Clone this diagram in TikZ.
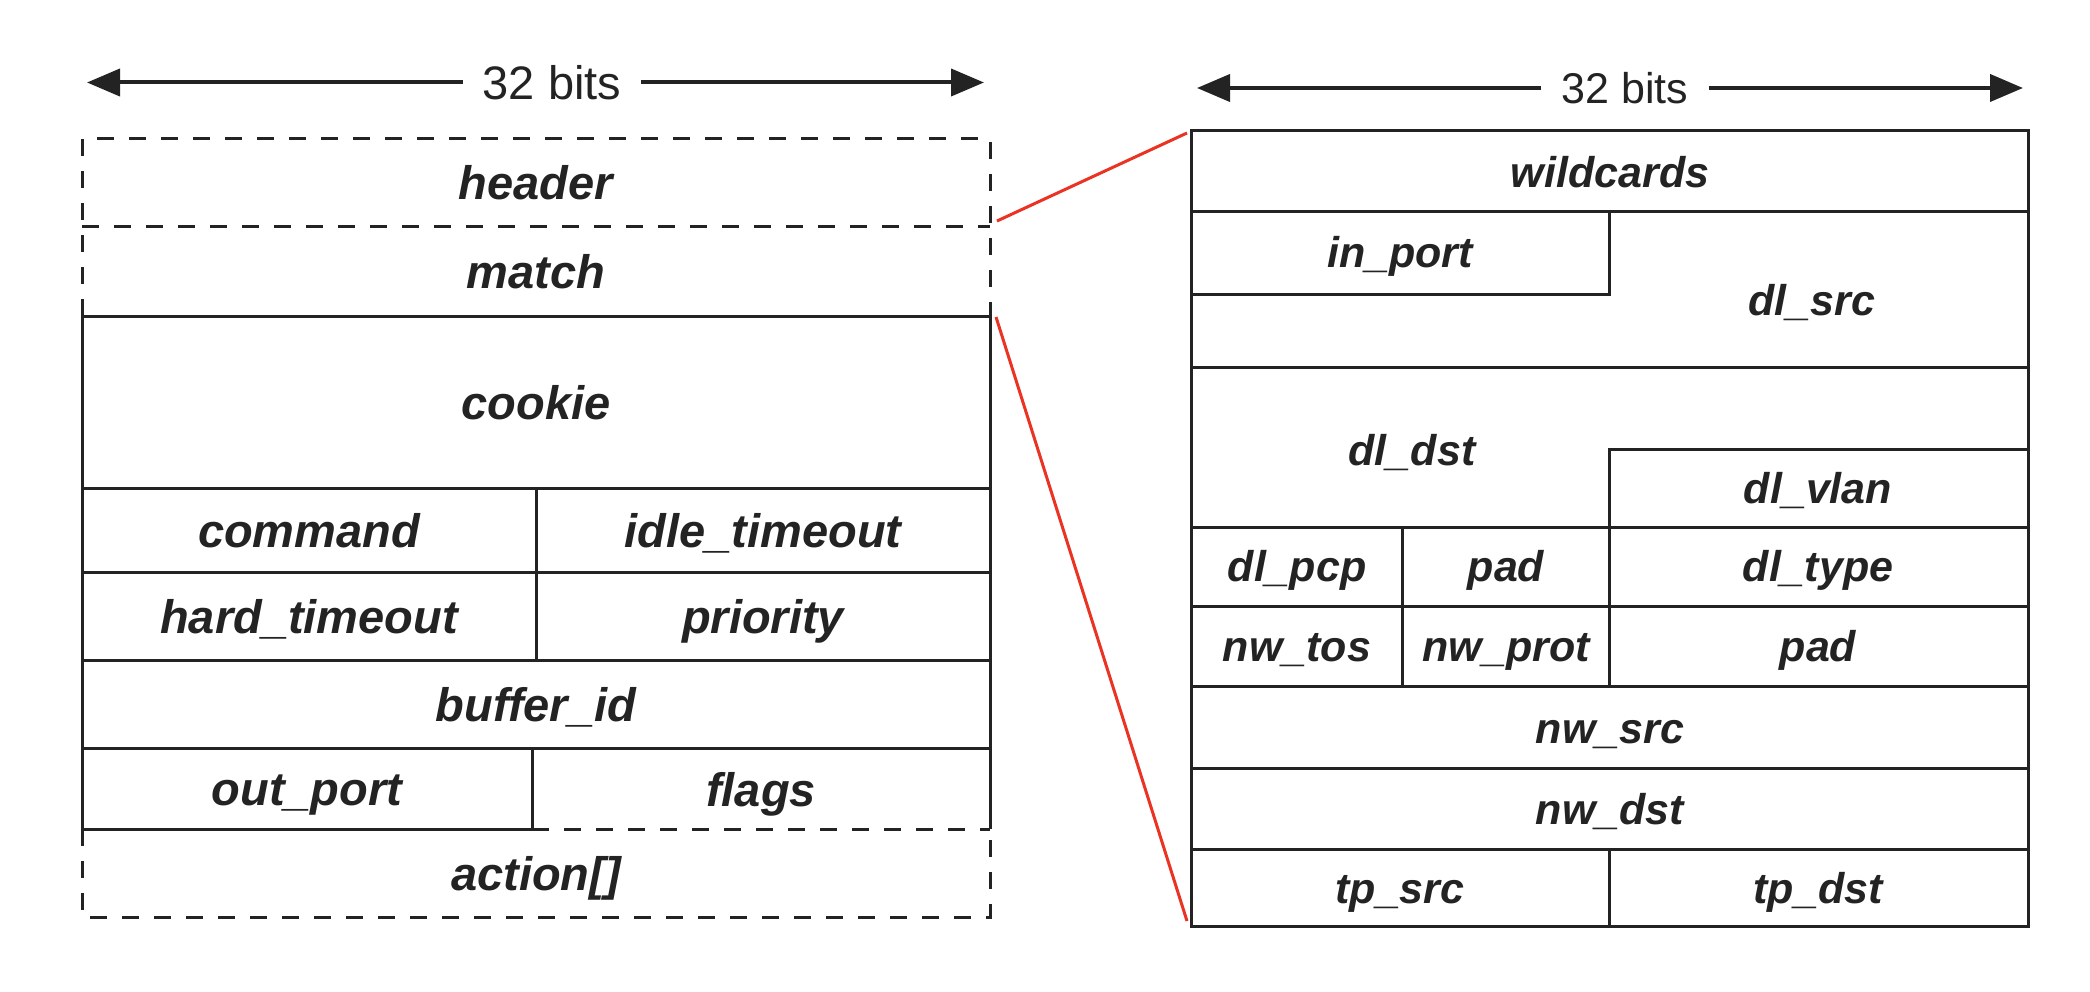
\documentclass[tikz,border=0pt]{standalone}
\usepackage{fontspec}
\setmainfont{Liberation Sans}
\usetikzlibrary{arrows.meta}
\definecolor{zoomred}{RGB}{234,51,35}
\definecolor{ink}{RGB}{35,35,35}
\tikzset{
  solidline/.style={line width=3pt, draw=ink},
  dashline/.style={line width=3pt, draw=ink, dash pattern=on 17pt off 15pt},
  zoomline/.style={line width=3pt, draw=zoomred},
  bitsarrow/.style={line width=4pt, draw=ink, -{Triangle[length=33pt,width=27pt]}},
  lfield/.style={font=\fontsize{47}{56}\selectfont\bfseries\itshape, inner sep=0pt, text height=34pt, text depth=0pt, anchor=center, text=ink},
  rfield/.style={font=\fontsize{43}{52}\selectfont\bfseries\itshape, inner sep=0pt, text height=31pt, text depth=0pt, anchor=center, text=ink},
  lbits/.style={font=\fontsize{47}{56}\selectfont, inner ysep=0pt, inner xsep=20pt, text height=34pt, text depth=0pt, anchor=center, text=ink},
  rbits/.style={font=\fontsize{43}{52}\selectfont, inner ysep=0pt, inner xsep=20pt, text height=31pt, text depth=0pt, anchor=center, text=ink},
}
\begin{document}
\begin{tikzpicture}[x=1pt,y=-1pt]
\useasboundingbox (0,0) rectangle (2090,992);

% ---------- left: 32 bits arrow ----------
\node[lbits] (bitsL) at (552,82.5) {32 bits};
\coordinate (laL) at (87,82.5);
\coordinate (laR) at (984,82.5);
\draw[bitsarrow] (bitsL.west) -- (laL);
\draw[bitsarrow] (bitsL.east) -- (laR);

% ---------- left structure ----------
\draw[dashline] (82,316) -- (82,139) -- (990,139) -- (990,316);
\draw[dashline] (82,227) -- (990,227);
\draw[dashline] (82,829) -- (82,917) -- (990,917) -- (990,829);
\draw[dashline] (532,829) -- (990,829);
\draw[solidline] (82,829) -- (82,316) -- (990,316) -- (990,829);
\draw[solidline] (82,488) -- (990,488);
\draw[solidline] (82,572) -- (990,572);
\draw[solidline] (82,660) -- (990,660);
\draw[solidline] (82,748) -- (990,748);
\draw[solidline] (536,488) -- (536,660);
\draw[solidline] (532,748) -- (532,829) -- (82,829);

\node[lfield] (header) at (536,183) {header};
\node[lfield] (match) at (536,271) {match};
\node[lfield] (cookie) at (536,402) {cookie};
\node[lfield] (command) at (309,530) {command};
\node[lfield] (idle) at (763,530) {idle\_timeout};
\node[lfield] (hard) at (309,616) {hard\_timeout};
\node[lfield] (priority) at (763,616) {priority};
\node[lfield] (buffer) at (536,704) {buffer\_id};
\node[lfield] (outport) at (307,788) {out\_port};
\node[lfield] (flags) at (761,789) {flags};
\node[lfield] (action) at (536,873) {action[]};

% ---------- right: 32 bits arrow ----------
\node[rbits] (bitsR) at (1625,88) {32 bits};
\coordinate (raL) at (1197,88);
\coordinate (raR) at (2023,88);
\draw[bitsarrow] (bitsR.west) -- (raL);
\draw[bitsarrow] (bitsR.east) -- (raR);

% ---------- right structure ----------
\draw[solidline] (1191,131) rectangle (2028,926);
\draw[solidline] (1191,212) -- (2028,212);
\draw[solidline] (1191,294) -- (1609,294) -- (1609,212);
\draw[solidline] (1191,367) -- (2028,367);
\draw[solidline] (1609,527) -- (1609,449) -- (2028,449);
\draw[solidline] (1191,527) -- (2028,527);
\draw[solidline] (1191,606) -- (2028,606);
\draw[solidline] (1191,686) -- (2028,686);
\draw[solidline] (1191,768) -- (2028,768);
\draw[solidline] (1191,849) -- (2028,849);
\draw[solidline] (1402,527) -- (1402,686);
\draw[solidline] (1609,527) -- (1609,686);
\draw[solidline] (1609,849) -- (1609,926);

\node[rfield] (wildcards) at (1610,172) {wildcards};
\node[rfield] (inport) at (1400,252) {in\_port};
\node[rfield] (dlsrc) at (1812,300) {dl\_src};
\node[rfield] (dldst) at (1412,450) {dl\_dst};
\node[rfield] (dlvlan) at (1818,488) {dl\_vlan};
\node[rfield] (dlpcp) at (1297,566) {dl\_pcp};
\node[rfield] (padA) at (1506,566) {pad};
\node[rfield] (dltype) at (1818,566) {dl\_type};
\node[rfield] (nwtos) at (1297,646) {nw\_tos};
\node[rfield] (nwprot) at (1506,646) {nw\_prot};
\node[rfield] (padB) at (1818,646) {pad};
\node[rfield] (nwsrc) at (1610,728) {nw\_src};
\node[rfield] (nwdst) at (1610,809) {nw\_dst};
\node[rfield] (tpsrc) at (1400,888) {tp\_src};
\node[rfield] (tpdst) at (1818,888) {tp\_dst};

% ---------- red zoom lines ----------
\coordinate (zA) at (997,221);
\coordinate (zB) at (1187,133);
\coordinate (zC) at (996,317);
\coordinate (zD) at (1187,921);
\draw[zoomline] (zA) -- (zB);
\draw[zoomline] (zC) -- (zD);
\end{tikzpicture}
\end{document}
